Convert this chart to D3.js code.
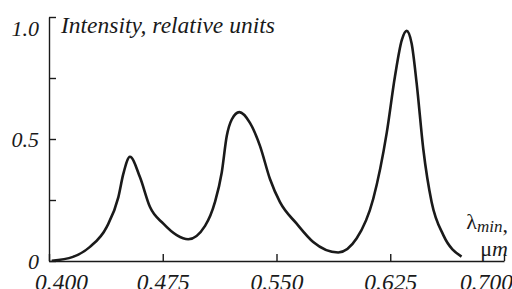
<!DOCTYPE html>
<html>
<head>
<meta charset="utf-8">
<script src="https://cdn.jsdelivr.net/npm/d3@7"></script>
<style>
    body { margin: 0; background: #fff; }
    svg text { font-family: "Liberation Serif", "Times New Roman", Times, "DejaVu Serif", "Noto Serif", serif; }
    .axis path, .axis line { stroke: #1a1a1a; stroke-width: 1.4; }
    .axis text { font-style: italic; fill: #1a1a1a; }
</style>
</head>
<body>
<div id="chart"></div>
<script>
// Intensity spectrum

const width = 512;
const height = 289;

const margin = { top: 17, right: 8, bottom: 28, left: 49 };
const serif = "'Liberation Serif', 'Times New Roman', Times, 'DejaVu Serif', serif";

// wavelength, um
const wavelength = [
    0.4018, 0.4158, 0.4270, 0.4380, 0.4457, 0.4490, 0.4534, 0.4600, 0.4666, 0.4754,
    0.4842, 0.4918, 0.5029, 0.5094, 0.5139, 0.5172, 0.5205, 0.5255, 0.5325, 0.5391,
    0.5457, 0.5523, 0.5633, 0.5742, 0.5907, 0.6029, 0.6138, 0.6227, 0.6281, 0.6326,
    0.6358, 0.6391, 0.6424, 0.6468, 0.6523, 0.6600, 0.6720
];

// relative intensity
const intensity = [
    0.001, 0.017, 0.058, 0.139, 0.261, 0.357, 0.427, 0.343, 0.221, 0.153,
    0.106, 0.089, 0.144, 0.241, 0.363, 0.512, 0.580, 0.610, 0.566, 0.472,
    0.336, 0.241, 0.153, 0.078, 0.035, 0.093, 0.255, 0.526, 0.756, 0.905,
    0.943, 0.891, 0.729, 0.458, 0.241, 0.106, 0.018
];

const xTicks = [0.400, 0.475, 0.550, 0.625, 0.700];
const yTicks = [0, 0.25, 0.5, 0.75, 1.0];
const yLabels = { 0: "0", 0.5: "0.5", 1: "1.0" };

const points = wavelength.map((w, i) => ({ x: w, y: intensity[i] }));

const svg = d3.select("#chart")
    .append("svg")
    .attr("width", width)
    .attr("height", height);

const xScale = d3.scaleLinear()
    .domain([0.4, 0.7])
    .range([margin.left, width - margin.right]);

const yScale = d3.scaleLinear()
    .domain([0, 1])
    .range([height - margin.bottom, margin.top]);

// x axis, ticks point inward (up)
const xAxisGroup = svg.append("g")
    .attr("class", "axis")
    .attr("font-family", serif)
    .attr("transform", `translate(0, ${height - margin.bottom})`)
    .call(d3.axisBottom(xScale)
        .tickValues(xTicks)
        .tickSizeInner(-7)
        .tickSizeOuter(0)
        .tickPadding(12)
        .tickFormat(d3.format(".3f")));

xAxisGroup.selectAll(".tick text")
    .style("font-size", "23.5px");

// end labels are nudged inward, as in the original
xAxisGroup.selectAll(".tick text")
    .filter(d => d === 0.4)
    .attr("dx", 12);
xAxisGroup.selectAll(".tick text")
    .filter(d => d === 0.7)
    .attr("dx", -18);

// y axis, ticks point inward (right)
const yAxisGroup = svg.append("g")
    .attr("class", "axis")
    .attr("font-family", serif)
    .attr("transform", `translate(${margin.left}, 0)`)
    .call(d3.axisLeft(yScale)
        .tickValues(yTicks)
        .tickSizeInner(-7)
        .tickSizeOuter(0)
        .tickPadding(10)
        .tickFormat(d => yLabels[d] || ""));

yAxisGroup.selectAll(".tick text")
    .style("font-size", "22px");

// the top label sits a bit lower than its tick
yAxisGroup.selectAll(".tick text")
    .filter(d => d === 1)
    .attr("dy", "0.85em");

// curve
svg.append("path")
    .datum(points)
    .attr("fill", "none")
    .attr("stroke", "#1a1a1a")
    .attr("stroke-width", 2.6)
    .attr("stroke-linejoin", "round")
    .attr("d", d3.line()
        .x(d => xScale(d.x))
        .y(d => yScale(d.y))
        .curve(d3.curveMonotoneX));

// y axis title
svg.append("text")
    .attr("x", margin.left + 12)
    .attr("y", 33)
    .attr("font-family", serif)
    .style("font-size", "23.5px")
    .style("font-style", "italic")
    .attr("fill", "#1a1a1a")
    .text("Intensity, relative units");

// x axis title
const xTitle = svg.append("text")
    .attr("x", width - 4)
    .attr("y", 229)
    .attr("text-anchor", "end")
    .attr("font-family", serif)
    .style("font-size", "22px")
    .attr("fill", "#1a1a1a");

xTitle.append("tspan").text("λ");
xTitle.append("tspan")
    .attr("dy", 3)
    .style("font-size", "17px")
    .style("font-style", "italic")
    .text("min");
xTitle.append("tspan").text(",");

const unit = svg.append("text")
    .attr("x", width - 4)
    .attr("y", 256)
    .attr("text-anchor", "end")
    .attr("font-family", serif)
    .style("font-size", "22px")
    .attr("fill", "#1a1a1a");

unit.append("tspan").text("μ");
unit.append("tspan").style("font-style", "italic").text("m");
</script>
</body>
</html>
